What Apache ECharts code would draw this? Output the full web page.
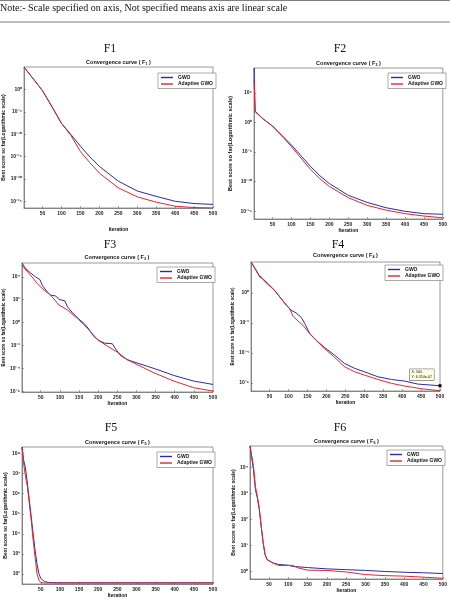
<!DOCTYPE html>
<html>
<head>
<meta charset="utf-8">
<script src="https://cdn.jsdelivr.net/npm/echarts@6/dist/echarts.min.js"></script>
<style>
  html, body { margin: 0; padding: 0; background: #fff; }
  #main { width: 450px; height: 608px; }
</style>
</head>
<body>
<div id="main"></div>
<script>
// values are log10(best score so far)
const f1Iter = [1, 25, 50, 75, 100, 125, 150, 175, 200, 250, 300, 350, 400, 450, 500];
const f1Gwo = [5.0, 2.4, -0.3, -3.9, -7.6, -10.1, -12.7, -15.1, -17.2, -20.5, -22.7, -23.9, -25.0, -25.5, -25.7];
const f1Agwo = [5.0, 2.4, -0.3, -3.9, -7.6, -10.3, -13.9, -16.4, -18.7, -22.0, -24.0, -25.2, -26.1, -26.4, -26.5];
const f1Ticks = [-25, -20, -15, -10, -5, 0];

const f2Iter = [1, 4, 25, 50, 75, 100, 125, 150, 175, 200, 250, 300, 350, 400, 450, 500];
const f2Gwo = [9.2, 1.9, 0.6, -0.6, -2.2, -3.8, -5.6, -7.4, -9.0, -10.3, -12.3, -13.5, -14.4, -15.0, -15.4, -15.5];
const f2Agwo = [7.3, 1.8, 0.6, -0.6, -2.3, -4.1, -6.0, -7.9, -9.5, -10.8, -12.7, -14.0, -14.8, -15.4, -15.8, -16.1];
const f2Ticks = [-15, -10, -5, 0, 5];

const f3GwoIter = [1, 11, 24, 37, 48, 54, 67, 76, 89, 98, 113, 120, 133, 150, 163, 176, 189, 202, 217, 237, 246, 259, 276, 302, 328, 354, 398, 450, 500];
const f3Gwo = [5.19, 4.70, 4.32, 3.98, 3.75, 3.26, 2.68, 2.39, 2.33, 2.02, 1.90, 1.38, 0.86, 0.29, -0.06, -0.58, -1.21, -1.56, -1.79, -1.84, -2.31, -2.88, -3.23, -3.52, -3.80, -4.09, -4.61, -5.10, -5.39];
const f3AgwoIter = [1, 24, 41, 59, 76, 98, 120, 146, 172, 199, 225, 251, 276, 302, 346, 398, 450, 500];
const f3Agwo = [4.99, 4.12, 3.40, 2.82, 2.39, 1.53, 1.10, 0.37, -0.49, -1.50, -2.07, -2.59, -3.23, -3.66, -4.38, -5.10, -5.68, -5.97];
const f3Ticks = [-6, -4, -2, 0, 2, 4];

const f4GwoIter = [1, 15, 24, 32, 46, 63, 81, 94, 107, 120, 134, 143, 156, 173, 195, 222, 248, 275, 301, 336, 372, 407, 442, 500];
const f4Gwo = [2.07, 1.51, 1.07, 0.96, 0.62, 0.18, -0.38, -0.82, -1.16, -1.33, -1.64, -2.04, -2.71, -3.16, -3.64, -4.16, -4.71, -5.04, -5.27, -5.60, -5.78, -5.89, -6.09, -6.197];
const f4AgwoIter = [1, 19, 41, 63, 85, 103, 112, 125, 138, 156, 173, 195, 222, 248, 275, 301, 336, 372, 407, 451, 500];
const f4Agwo = [2.07, 1.29, 0.67, 0.18, -0.53, -1.04, -1.56, -1.87, -2.16, -2.71, -3.16, -3.71, -4.31, -4.93, -5.27, -5.49, -5.78, -6.04, -6.22, -6.40, -6.53];
const f4Ticks = [-6, -4, -2, 0];

const f5Iter = [1, 5, 10, 15, 20, 25, 30, 35, 40, 45, 50, 60, 70, 80, 100, 200, 300, 400, 500];
const f5Gwo = [8.33, 7.70, 7.28, 6.53, 5.70, 4.87, 4.03, 3.20, 2.53, 2.03, 1.78, 1.62, 1.58, 1.57, 1.56, 1.56, 1.56, 1.56, 1.56];
const f5Agwo = [8.33, 7.53, 6.87, 6.37, 5.53, 4.70, 3.70, 2.87, 2.03, 1.70, 1.57, 1.55, 1.55, 1.55, 1.55, 1.55, 1.55, 1.55, 1.55];
const f5Ticks = [2, 3, 4, 5, 6, 7, 8];

const f6Iter = [1, 10, 15, 20, 25, 30, 35, 40, 45, 50, 60, 75, 100, 110, 125, 150, 200, 250, 300, 350, 400, 450, 500];
const f6Gwo = [4.82, 3.90, 3.14, 2.82, 2.37, 1.73, 1.10, 0.64, 0.45, 0.38, 0.32, 0.26, 0.23, 0.19, 0.17, 0.14, 0.09, 0.06, 0.03, -0.01, -0.04, -0.06, -0.09];
const f6Agwo = [4.82, 4.04, 3.27, 2.88, 2.44, 1.73, 1.10, 0.64, 0.45, 0.42, 0.32, 0.22, 0.22, 0.23, 0.13, 0.04, 0.03, -0.03, -0.13, -0.17, -0.19, -0.23, -0.27];
const f6Ticks = [0, 1, 2, 3, 4];

const xTicks = [50, 100, 150, 200, 250, 300, 350, 400, 450, 500];
const seriesNames = ['GWO', 'Adaptive GWO'];
const noteText = 'Note:- Scale specified on axis, Not specified means axis are linear scale';
const yTitle = 'Best score so far(Logarithmic scale)';

const panels = [
  { label: 'F1', sub: '1', box: [24, 67, 189, 141], y: [-26.5, 5.0], ticks: f1Ticks,
    gwo: [f1Iter, f1Gwo], agwo: [f1Iter, f1Agwo], xGap: 19, yGap: 14, yFont: 5, tag: [110, 49], titleY: 62, legend: [158, 73] },
  { label: 'F2', sub: '2', box: [254, 68, 189, 151], y: [-16.3, 9.2], ticks: f2Ticks,
    gwo: [f2Iter, f2Gwo], agwo: [f2Iter, f2Agwo], xGap: 9, yGap: 21, yFont: 5.5, tag: [340, 49], titleY: 63, legend: [388, 73] },
  { label: 'F3', sub: '3', box: [21, 263, 192, 129], y: [-6.05, 5.2], ticks: f3Ticks,
    gwo: [f3GwoIter, f3Gwo], agwo: [f3AgwoIter, f3Agwo], xGap: 8, yGap: 12, yFont: 4.5, tag: [110, 245], titleY: 257, legend: [157, 267] },
  { label: 'F4', sub: '4', box: [251, 262, 189, 129], y: [-6.55, 2.07], ticks: f4Ticks,
    gwo: [f4GwoIter, f4Gwo], agwo: [f4AgwoIter, f4Agwo], xGap: 7, yGap: 12, yFont: 4.5, tag: [338, 245], titleY: 255, legend: [385, 265] },
  { label: 'F5', sub: '5', box: [22, 447, 191, 137], y: [1.5, 8.33], ticks: f5Ticks,
    gwo: [f5Iter, f5Gwo], agwo: [f5Iter, f5Agwo], xGap: 9, yGap: 12, yFont: 5, tag: [111, 428], titleY: 442, legend: [157, 452] },
  { label: 'F6', sub: '6', box: [250, 446, 193, 133], y: [-0.3, 4.82], ticks: f6Ticks,
    gwo: [f6Iter, f6Gwo], agwo: [f6Iter, f6Agwo], xGap: 8, yGap: 12, yFont: 5, tag: [340, 428], titleY: 441, legend: [387, 450] }
];

const supMap = { '-': '\u207B', '0': '\u2070', '1': '\u00B9', '2': '\u00B2', '3': '\u00B3', '4': '\u2074',
  '5': '\u2075', '6': '\u2076', '7': '\u2077', '8': '\u2078', '9': '\u2079' };
function pow10Label(v) {
  return '10' + String(Math.round(v)).split('').map(c => supMap[c]).join('');
}

const BLUE = '#2b2ba6';
const RED = '#dc2a2a';
const FONT = '"Liberation Sans", Arial, sans-serif';

const grid = [], xAxis = [], yAxis = [], series = [], legend = [], graphic = [];

graphic.push(
  { type: 'line', shape: { x1: 0, y1: 0.5, x2: 450, y2: 0.5 }, style: { stroke: '#808080', lineWidth: 1.2 } },
  { type: 'line', shape: { x1: 0, y1: 22, x2: 450, y2: 22 }, style: { stroke: '#808080', lineWidth: 1.2 } },
  { type: 'text', x: 0, y: 8, style: { text: noteText, font: '10px "Liberation Serif", serif', fill: '#111', textVerticalAlign: 'middle' } }
);

panels.forEach((p, i) => {
  const [left, top, width, height] = p.box;
  grid.push({ left, top, width, height, show: true, borderColor: '#555', borderWidth: 0.6, backgroundColor: '#fff' });

  xAxis.push({
    type: 'value', gridIndex: i, min: 1, max: 500,
    name: 'Iteration', nameLocation: 'middle', nameGap: p.xGap,
    nameTextStyle: { fontSize: 5, fontWeight: 'bold', fontFamily: FONT, color: '#111' },
    axisLine: { onZero: false, lineStyle: { color: '#555', width: 0.6 } },
    axisTick: { inside: true, length: 2, customValues: xTicks, lineStyle: { color: '#555', width: 0.5 } },
    axisLabel: { customValues: xTicks, fontSize: 5, fontWeight: 'bold', fontFamily: FONT, color: '#222', margin: 3 },
    splitLine: { show: false }
  });

  yAxis.push({
    type: 'value', gridIndex: i, min: p.y[0], max: p.y[1],
    name: yTitle, nameLocation: 'middle', nameGap: p.yGap, nameRotate: 90,
    nameTextStyle: { fontSize: p.yFont, fontWeight: 'bold', fontFamily: FONT, color: '#111' },
    axisLine: { onZero: false, lineStyle: { color: '#555', width: 0.6 } },
    axisTick: { inside: true, length: 2, customValues: p.ticks, lineStyle: { color: '#555', width: 0.5 } },
    axisLabel: { customValues: p.ticks, formatter: pow10Label, fontSize: 5, fontWeight: 'bold', fontFamily: FONT, color: '#222', margin: 2 },
    splitLine: { show: false }
  });

  const gwoSeries = {
    name: seriesNames[0], type: 'line', xAxisIndex: i, yAxisIndex: i,
    data: p.gwo[0].map((x, k) => [x, p.gwo[1][k]]),
    showSymbol: false, color: BLUE, lineStyle: { width: 1, color: BLUE }, z: 2
  };
  if (p.label === 'F4') {
    const last = p.gwo[0].length - 1;
    gwoSeries.markPoint = {
      symbol: 'rect', symbolSize: 3, itemStyle: { color: '#000' },
      data: [{ coord: [p.gwo[0][last], p.gwo[1][last]] }],
      label: {
        show: true, formatter: 'X: 500\nY: 6.354e-07', position: [-29, -15],
        fontSize: 3.6, lineHeight: 4.5, fontFamily: FONT, color: '#111',
        backgroundColor: '#ffffe1', borderColor: '#444', borderWidth: 0.5, padding: [1, 2]
      }
    };
  }
  series.push(gwoSeries);
  series.push({
    name: seriesNames[1], type: 'line', xAxisIndex: i, yAxisIndex: i,
    data: p.agwo[0].map((x, k) => [x, p.agwo[1][k]]),
    showSymbol: false, color: RED, lineStyle: { width: 1, color: RED }, z: 3
  });

  legend.push({
    data: seriesNames, orient: 'vertical', left: p.legend[0], top: p.legend[1],
    icon: 'rect', itemWidth: 12, itemHeight: 1.4, itemGap: 1.5, itemTextGap: 3,
    padding: [2, 3], borderColor: '#555', borderWidth: 0.5, backgroundColor: '#fff',
    textStyle: { fontSize: 5, fontWeight: 'bold', fontFamily: FONT, color: '#111' },
    selectedMode: false
  });

  graphic.push(
    { type: 'text', x: p.tag[0], y: p.tag[1],
      style: { text: p.label, font: '12px "Liberation Serif", serif', fill: '#111', textAlign: 'center', textVerticalAlign: 'middle' } },
    { type: 'text', x: left + width / 2, y: p.titleY,
      style: { text: 'Convergence curve ( F{s|' + p.sub + '} )', font: 'bold 5.5px ' + FONT, fill: '#111',
        textAlign: 'center', textVerticalAlign: 'middle',
        rich: { s: { fontSize: 3.8, fontWeight: 'bold', fontFamily: FONT, verticalAlign: 'bottom', padding: [3, 0, 0, 0] } } } }
  );
});

const chart = echarts.init(document.getElementById('main'));
chart.setOption({
  animation: false,
  backgroundColor: '#fff',
  grid, xAxis, yAxis, series, legend, graphic
});
</script>
</body>
</html>
